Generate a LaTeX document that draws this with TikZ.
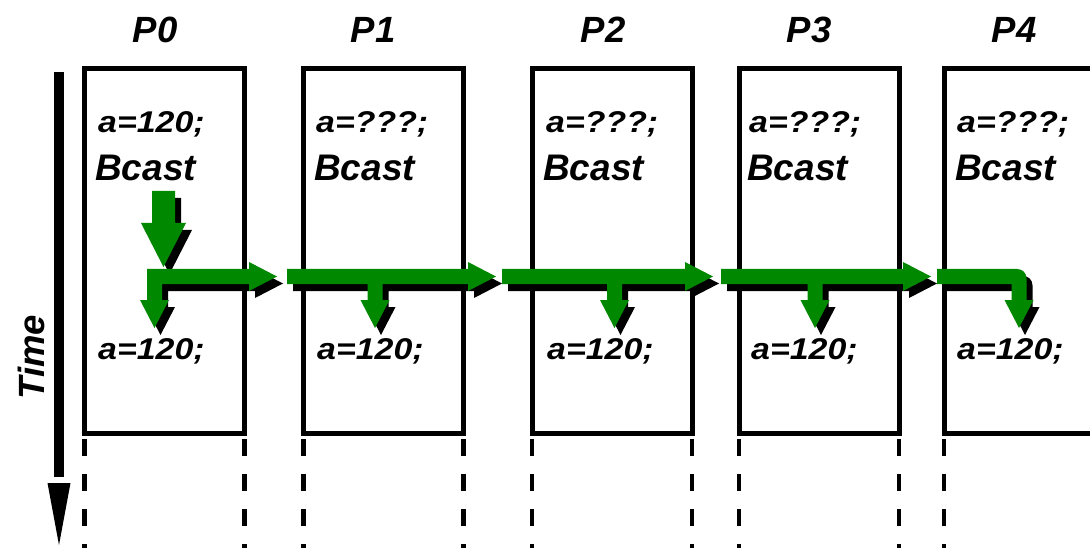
\documentclass[tikz,border=0pt]{standalone}
\usepackage{fontspec}
\setmainfont{Liberation Sans}
\usepackage{graphicx}
\definecolor{bgreen}{RGB}{0,136,0}
% T-shaped segment: bar from #1 to tip #2, branch at #3, style #4
\newcommand\tseg[4]{\fill[#4] (#1,269) -- (#2-28,269) -- (#2-28,262) -- (#2,276.5) -- (#2-28,291) -- (#2-28,284) -- (#3+7.5,284) -- (#3+7.5,300) -- (#3+14.5,300) -- (#3,328) -- (#3-14.5,300) -- (#3-7.5,300) -- (#3-7.5,284) -- (#1,284) -- cycle;}
\newcommand\lsegA[1]{\fill[#1] (147,269) -- (249,269) -- (249,262) -- (277,276.5) -- (249,291) -- (249,284) -- (162,284) -- (162,300) -- (169,300) -- (154.5,328) -- (140,300) -- (147,300) -- cycle;}
\newcommand\lsegE[1]{\fill[#1] (937,269) -- (1017,269) .. controls (1022.5,269) and (1026.5,273) .. (1026.5,278.5) -- (1026.5,300) -- (1033.5,300) -- (1019,328) -- (1004.5,300) -- (1011.5,300) -- (1011.5,284) -- (937,284) -- cycle;}
\newcommand\bigdown[1]{\fill[#1] (152,191) -- (152,223) -- (141,223) -- (163.5,267) -- (186,223) -- (175,223) -- (175,191) -- cycle;}
\begin{document}
\begin{tikzpicture}[x=1pt,y=-1pt,
  box/.style={draw, line width=5pt, inner sep=0pt, outer sep=0pt, minimum width=160pt, minimum height=365pt},
  plabel/.style={font=\fontsize{36.5}{40}\selectfont\bfseries\itshape, inner sep=0pt, anchor=base},
  bcast/.style={font=\fontsize{37}{40}\selectfont\bfseries\itshape, inner sep=0pt, anchor=base west},
  aval/.style={font=\fontsize{30}{32}\selectfont\bfseries\itshape, inner sep=0pt, anchor=base west},
  dline/.style={line width=4.5pt, dash pattern=on 17pt off 18pt},
  shad/.style={fill=black, shift={(6,7)}},
  garrow/.style={fill=bgreen}]
\useasboundingbox (0,0) rectangle (1090,548);
\clip (0,0) rectangle (1090,548);

% process boxes
\node[box] (p0) at (164.5,251) {};
\node[box] (p1) at (383.5,251) {};
\node[box] (p2) at (612,251) {};
\node[box] (p3) at (819,251) {};
\node[box] (p4) at (1024,251) {};

% dashed continuations
\foreach \p in {p0,p1,p2,p3,p4}{
  \draw[dline] ([yshift=-5.5pt]\p.south west) -- (\p.south west |- 0,560);
  \draw[dline] ([yshift=-5.5pt]\p.south east) -- (\p.south east |- 0,560);
}

% process labels
\node[plabel] (l0) at (155,43) {P0};
\node[plabel] (l1) at (373,43) {P1};
\node[plabel] (l2) at (603,43) {P2};
\node[plabel] (l3) at (809,43) {P3};
\node[plabel] (l4) at (1014,43) {P4};

% upper texts
\node[aval] (u0) at (98,133) {\scalebox{1.13}[1]{a=120;}};
\node[aval] (u1) at (316,133) {\scalebox{1.13}[1]{a=???;}};
\node[aval] (u2) at (546,133) {\scalebox{1.13}[1]{a=???;}};
\node[aval] (u3) at (749,133) {\scalebox{1.13}[1]{a=???;}};
\node[aval] (u4) at (957,133) {\scalebox{1.13}[1]{a=???;}};
\node[bcast] (b0) at (95,181) {Bcast};
\node[bcast] (b1) at (314,181) {Bcast};
\node[bcast] (b2) at (543,181) {Bcast};
\node[bcast] (b3) at (747,181) {Bcast};
\node[bcast] (b4) at (955,181) {Bcast};

% lower texts
\node[aval] (d0) at (98,359) {\scalebox{1.13}[1]{a=120;}};
\node[aval] (d1) at (317,359) {\scalebox{1.13}[1]{a=120;}};
\node[aval] (d2) at (547,359) {\scalebox{1.13}[1]{a=120;}};
\node[aval] (d3) at (751,359) {\scalebox{1.13}[1]{a=120;}};
\node[aval] (d4) at (957,359) {\scalebox{1.13}[1]{a=120;}};

% time axis
\coordinate (ttop) at (59,72);
\coordinate (tend) at (59,477);
\draw[line width=10pt] (ttop) -- (tend);
\fill (47.5,483) -- (70.5,483) -- (59,545) -- cycle;
\node[rotate=90, font=\fontsize{36.5}{40}\selectfont\bfseries\itshape, inner sep=0pt] (time) at (31,357) {Time};

% shadows
\bigdown{shad}
\lsegA{shad}
\tseg{287}{496}{375}{shad}
\tseg{502}{713}{614.5}{shad}
\tseg{721}{931}{815}{shad}
\lsegE{shad}
% green arrows
\bigdown{garrow}
\lsegA{garrow}
\tseg{287}{496}{375}{garrow}
\tseg{502}{713}{614.5}{garrow}
\tseg{721}{931}{815}{garrow}
\lsegE{garrow}
\end{tikzpicture}
\end{document}
